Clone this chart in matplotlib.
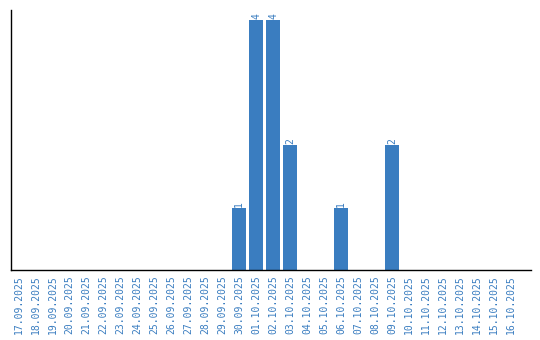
import matplotlib
matplotlib.use("Agg")
import matplotlib.pyplot as plt
import numpy as np

# donnees
dates = ["17.09.2025", "18.09.2025", "19.09.2025", "20.09.2025", "21.09.2025",
         "22.09.2025", "23.09.2025", "24.09.2025", "25.09.2025", "26.09.2025",
         "27.09.2025", "28.09.2025", "29.09.2025", "30.09.2025", "01.10.2025",
         "02.10.2025", "03.10.2025", "04.10.2025", "05.10.2025", "06.10.2025",
         "07.10.2025", "08.10.2025", "09.10.2025", "10.10.2025", "11.10.2025",
         "12.10.2025", "13.10.2025", "14.10.2025", "15.10.2025", "16.10.2025"]
counts = [0, 0, 0, 0, 0, 0, 0, 0, 0, 0, 0, 0, 0, 1, 4,
          4, 2, 0, 0, 1, 0, 0, 2, 0, 0, 0, 0, 0, 0, 0]

BLUE = "#3a7dc0"
FONT = "DejaVu Sans Mono"

fig = plt.figure(figsize=(5.4, 3.4), dpi=100)
ax = fig.add_axes([11 / 540, 70 / 340, 520 / 540, 260 / 340])

x = np.arange(len(dates))
ax.bar(x, counts, width=0.82, color=BLUE)

for xi, c in zip(x, counts):
    if c > 0:
        ax.text(xi, c + 0.01, str(c), rotation=90, ha="center", va="bottom",
                color=BLUE, fontsize=7, family=FONT)

ax.set_xlim(-0.45, 30.2)
ax.set_ylim(0, 4.16)
ax.set_xticks(x)
ax.set_xticklabels(dates, rotation=90, fontsize=7, color=BLUE, family=FONT)
ax.tick_params(axis="x", length=0, pad=4)
ax.set_yticks([])
ax.spines["top"].set_visible(False)
ax.spines["right"].set_visible(False)
ax.spines["left"].set_linewidth(1.0)
ax.spines["bottom"].set_linewidth(1.0)

plt.savefig("out.png", dpi=100)
plt.close()
